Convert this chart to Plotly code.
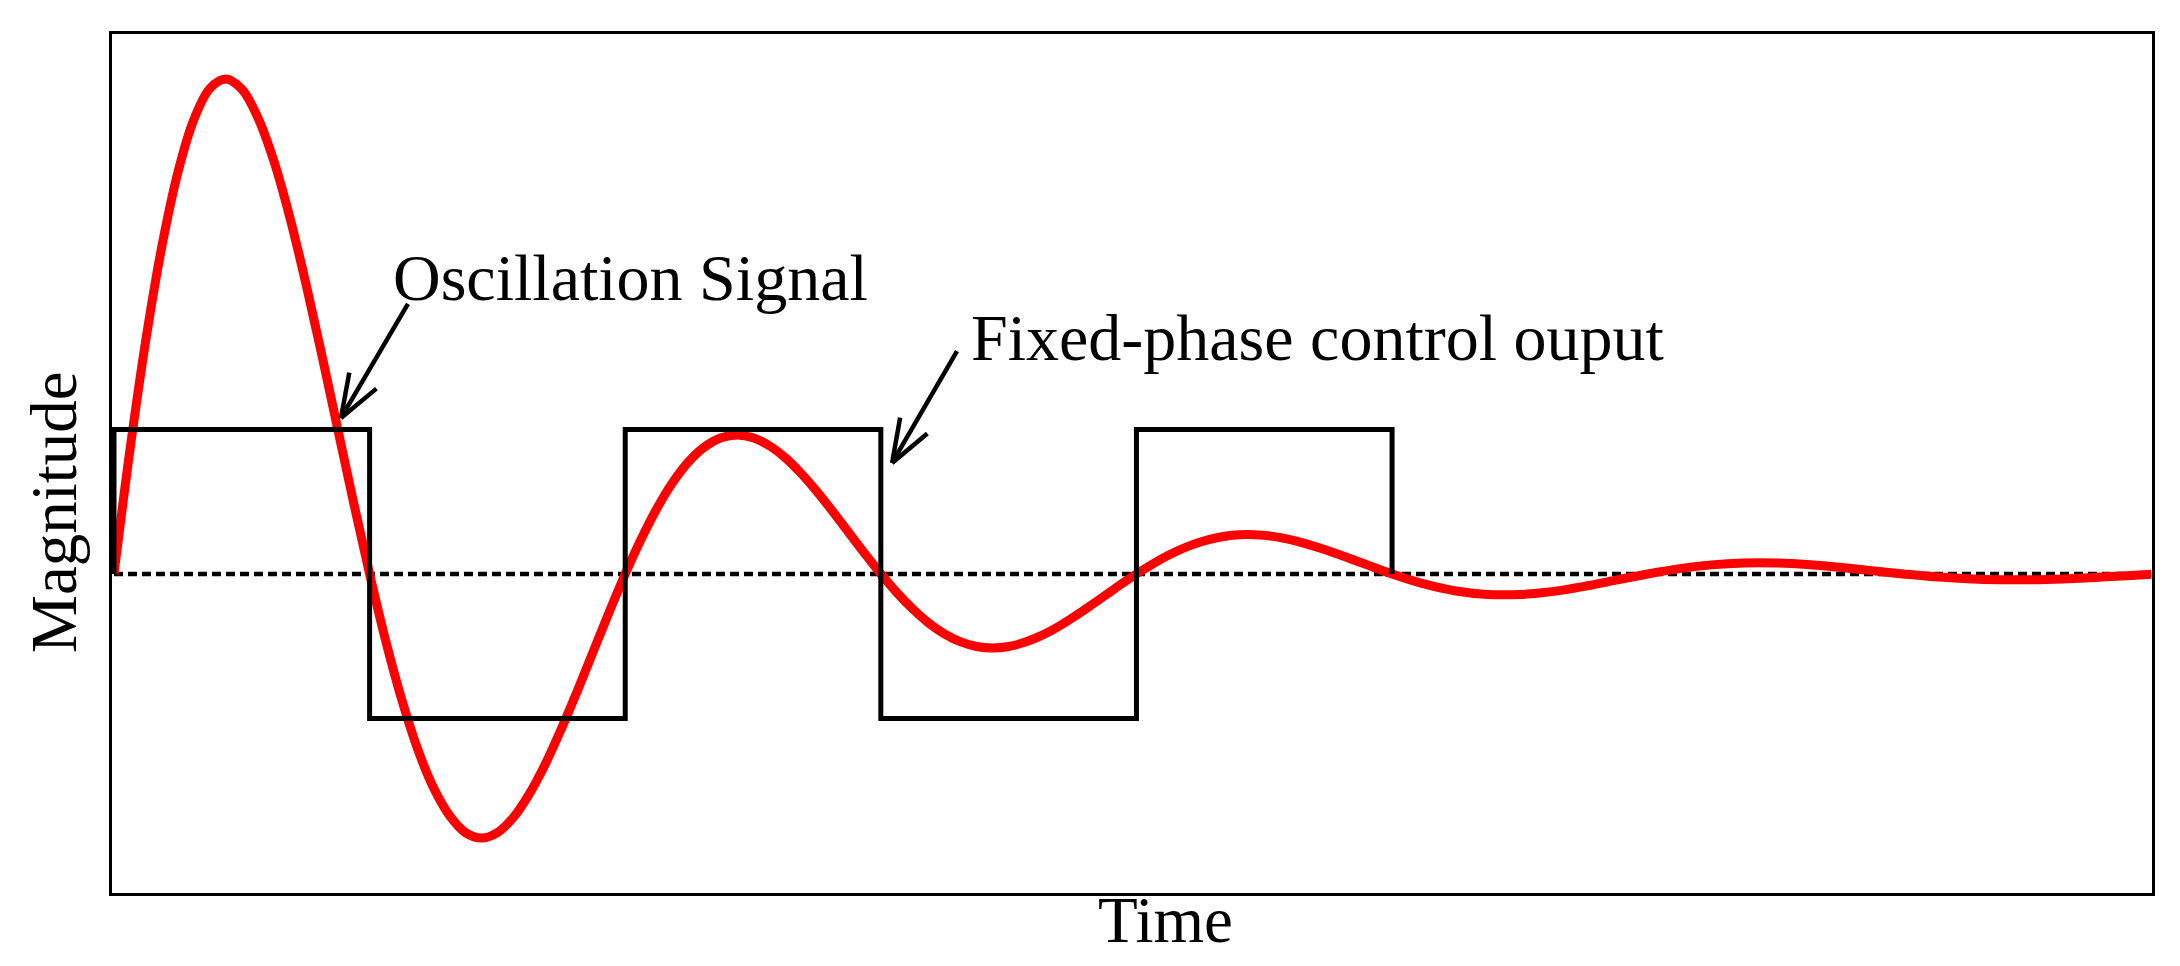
import math
import plotly.graph_objects as go

# oscillation signal (time in half-periods of the control output)
signal_t = [0, 0.0625, 0.125, 0.1875, 0.25, 0.3125, 0.375, 0.4375,
            0.5, 0.5625, 0.625, 0.6875, 0.75, 0.8125, 0.875, 0.9375,
            1.0, 1.0625, 1.125, 1.1875, 1.25, 1.3125, 1.375, 1.4375,
            1.5, 1.5625, 1.625, 1.6875, 1.75, 1.8125, 1.875, 1.9375,
            2.0, 2.0625, 2.125, 2.1875, 2.25, 2.3125, 2.375, 2.4375,
            2.5, 2.5625, 2.625, 2.6875, 2.75, 2.8125, 2.875, 2.9375,
            3.0, 3.0625, 3.125, 3.1875, 3.25, 3.3125, 3.375, 3.4375,
            3.5, 3.5625, 3.625, 3.6875, 3.75, 3.8125, 3.875, 3.9375,
            4.0, 4.125, 4.25, 4.375, 4.5, 4.625, 4.75, 4.875,
            5.0, 5.125, 5.25, 5.375, 5.5, 5.625, 5.75, 5.875,
            6.0, 6.125, 6.25, 6.375, 6.5, 6.625, 6.75, 6.875,
            7.0, 7.125, 7.25, 7.375, 7.5, 7.625, 7.75, 7.875, 7.97]
signal_mag = [0, 0.860, 1.625, 2.270, 2.780, 3.145, 3.360, 3.425,
              3.355, 3.160, 2.860, 2.470, 2.015, 1.520, 1.005, 0.492,
              0, -0.460, -0.866, -1.210, -1.480, -1.672, -1.790, -1.828,
              -1.790, -1.685, -1.522, -1.315, -1.072, -0.810, -0.536, -0.262,
              0, 0.242, 0.457, 0.638, 0.781, 0.882, 0.942, 0.962,
              0.943, 0.889, 0.806, 0.697, 0.570, 0.431, 0.285, 0.140,
              0, -0.129, -0.243, -0.340, -0.416, -0.470, -0.502, -0.512,
              -0.502, -0.473, -0.429, -0.371, -0.303, -0.229, -0.152, -0.074,
              0, 0.130, 0.221, 0.268, 0.267, 0.228, 0.161, 0.081,
              0, -0.069, -0.118, -0.142, -0.142, -0.122, -0.086, -0.043,
              0, 0.037, 0.063, 0.076, 0.076, 0.065, 0.046, 0.023,
              0, -0.020, -0.033, -0.040, -0.040, -0.034, -0.024, -0.012, -0.002]

# fixed-phase control output (square wave)
control_t = [0, 0, 1, 1, 2, 2, 3, 3, 4, 4, 5, 5]
control_mag = [0, 1, 1, -1, -1, 1, 1, -1, -1, 1, 1, 0]

zero_t = [0, 7.97]
zero_mag = [0, 0]

FONT = "Liberation Serif, Times New Roman, serif"
PX_X = 255.6   # pixels per time unit
PX_Y = 144.5   # pixels per magnitude unit

fig = go.Figure()
fig.add_trace(go.Scatter(x=zero_t, y=zero_mag, mode="lines",
                         line=dict(color="black", width=4.5, dash="9px,5px")))
fig.add_trace(go.Scatter(x=signal_t, y=signal_mag, mode="lines",
                         line=dict(color="#ff0000", width=9, shape="spline", smoothing=1.0)))
fig.add_trace(go.Scatter(x=control_t, y=control_mag, mode="lines",
                         line=dict(color="black", width=5)))


def open_arrow(x0, y0, x1, y1, head=46, angle=20):
    """shaft from tail (x0, y0) to head (x1, y1) plus an open V head"""
    shapes = [dict(type="line", x0=x0, y0=y0, x1=x1, y1=y1,
                   line=dict(color="black", width=4.5))]
    dx, dy = (x0 - x1) * PX_X, (y0 - y1) * PX_Y
    base = math.atan2(dy, dx)
    for s in (-1, 1):
        a = base + s * math.radians(angle)
        shapes.append(dict(type="line", x0=x1, y0=y1,
                           x1=x1 + head * math.cos(a) / PX_X,
                           y1=y1 + head * math.sin(a) / PX_Y,
                           line=dict(color="black", width=4.5)))
    return shapes


shapes = open_arrow(1.150, 1.869, 0.888, 1.080) + open_arrow(3.298, 1.543, 3.044, 0.768)

annotations = [
    dict(x=1.083, y=2.05, xref="x", yref="y", text="Oscillation Signal",
         showarrow=False, xanchor="left", yanchor="middle",
         font=dict(family=FONT, size=66, color="black")),
    dict(x=3.345, y=1.640, xref="x", yref="y", text="Fixed-phase control ouput",
         showarrow=False, xanchor="left", yanchor="middle",
         font=dict(family=FONT, size=66, color="black")),
    dict(x=(1165 - 112) / 2040, y=-0.032, xref="paper", yref="paper", text="Time",
         showarrow=False, xanchor="center", yanchor="middle",
         font=dict(family=FONT, size=65, color="black")),
    dict(x=-0.0285, y=0.4435, xref="paper", yref="paper", text="Magnitude",
         showarrow=False, xanchor="center", yanchor="middle", textangle=-90,
         font=dict(family=FONT, size=65, color="black")),
]

# the page body adds an 8px margin, so the figure is shrunk to fit the window
fig.update_layout(
    width=2164, height=950,
    margin=dict(l=104, r=20, t=26, b=65),
    paper_bgcolor="white", plot_bgcolor="white",
    showlegend=False,
    shapes=shapes,
    annotations=annotations,
    xaxis=dict(range=[-0.0078, 7.973], showgrid=False, zeroline=False,
               showticklabels=False, ticks="", showline=True, mirror=True,
               linecolor="black", linewidth=3),
    yaxis=dict(range=[-2.208, 3.737], showgrid=False, zeroline=False,
               showticklabels=False, ticks="", showline=True, mirror=True,
               linecolor="black", linewidth=3),
)

fig.write_html("out.html")
